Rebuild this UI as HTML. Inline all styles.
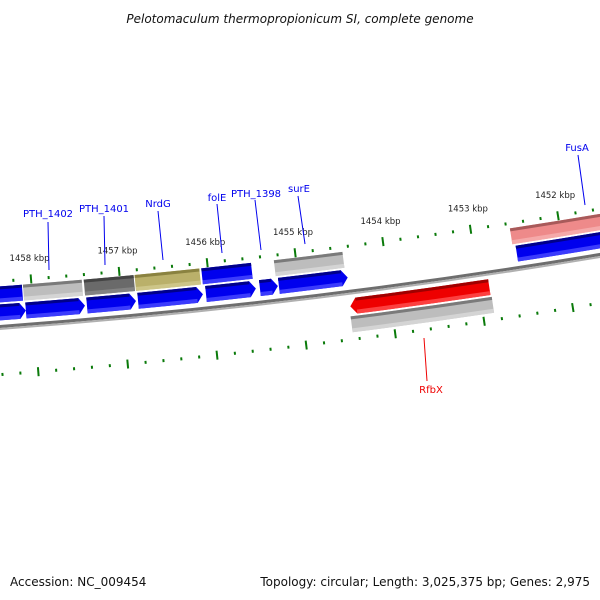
<!DOCTYPE html>
<html><head><meta charset="utf-8"><style>
body{margin:0;background:#fff;}
svg{display:block;font-family:"DejaVu Sans","Liberation Sans",sans-serif;}
</style></head><body>
<svg id="map" width="600" height="600" viewBox="0 0 600 600">
<text x="300" y="23" text-anchor="middle" font-size="12" font-style="italic" fill="#111">Pelotomaculum thermopropionicum SI, complete genome</text>
<g id="rings"></g>
<g id="labels"></g>
<text x="10" y="586" font-size="12" fill="#111">Accession: NC_009454</text>
<text x="590" y="586" font-size="12" fill="#111" text-anchor="end">Topology: circular; Length: 3,025,375 bp; Genes: 2,975</text>
</svg>
<script>
// feature data (bp)
const featStarts = [1458400,1458096,1457407,1456831,1456074,1455249,1452559,
  1458500,1458085,1457396,1456819,1456051,1455441,1455226,1452525,
  1454458,1454469];
const featEnds = [1458108,1457430,1456842,1456096,1455509,1454469,1451300,
  1458085,1457418,1456842,1456085,1455486,1455237,1454446,1451300,
  1452887,1452876];
const featRows = [0,0,0,0,0,0,0, 1,1,1,1,1,1,1,1, 2,3];
const featKinds = ['blue','lgray','dgray','olive','blue','lgray','pink',
  'blue','blue','blue','blue','blue','blue','blue','blue','red','lgray'];
const featArrows = [0,0,0,0,0,0,0, 1,1,1,1,1,1,1,0, -1,0];
const tickStart = 1450800, tickEnd = 1459400, tickStep = 200;
const labelKbp = [1458,1457,1456,1455,1454,1453,1452];

const CX=-479, CY=-6201;
const rowR=[6513,6531,6560,6578];
const colors={blue:['#0000ee','#00008a','#4a4aff'],lgray:['#bdbdbd','#7a7a7a','#dadada'],
 dgray:['#6a6a6a','#444','#888'],olive:['#bab06a','#8a8240','#d2ca90'],
 pink:['#ee8a8a','#a85a5a','#f6b0b0'],red:['#ee0000','#a00000','#ff5050']};
function ang(bp){return (83.16+(bp-1455000)*0.00078)*Math.PI/180;}
function P(bp,r){const a=ang(bp);return [CX+r*Math.cos(a),CY+r*Math.sin(a)];}
const NS='http://www.w3.org/2000/svg';
const rings=document.getElementById('rings');
function mk(tag,at,parent){const e=document.createElementNS(NS,tag);for(const k in at)e.setAttribute(k,at[k]);(parent||rings).appendChild(e);return e;}
function f(p){return p[0].toFixed(2)+','+p[1].toFixed(2);}
const AH=6/6520*180/Math.PI/0.00078;
function sector(s,e,r1,r2,tipL,tipR){
  const rm=(r1+r2)/2;
  let d='M'+f(P(s,r1))+' A'+r1+','+r1+' 0 0 0 '+f(P(e,r1));
  if(tipR!==undefined)d+=' L'+f(P(tipR,rm));
  d+=' L'+f(P(e,r2))+' A'+r2+','+r2+' 0 0 1 '+f(P(s,r2));
  if(tipL!==undefined)d+=' L'+f(P(tipL,rm));
  return d+'Z';
}
// backbone
let bb=mk('path',{d:'M'+f(P(1459500,6545))+' A6545,6545 0 0 0 '+f(P(1450700,6545)),fill:'none',stroke:'#6e6e6e','stroke-width':3});


let bb2=mk('path',{d:'M'+f(P(1459500,6547.5))+' A6547.5,6547.5 0 0 0 '+f(P(1450700,6547.5)),fill:'none',stroke:'#b0b0b0','stroke-width':2});


// features
for(let i=0;i<featStarts.length;i++){
  const rc=rowR[featRows[i]], c=colors[featKinds[i]];
  const a=featArrows[i];
  let s=featStarts[i], e=featEnds[i], tL, tR;
  if(a===1){e=featEnds[i]+AH; tR=featEnds[i];}
  if(a===-1){s=featStarts[i]-AH; tL=featStarts[i];}
  const g=mk('g',{});
  
  
  mk('path',{d:sector(s,e,rc-8,rc+8,tL,tR),fill:c[0]},g);
  mk('path',{d:sector(s,e,rc-8,rc-5),fill:c[1]},g);
  mk('path',{d:sector(s,e,rc+4,rc+8),fill:c[2],opacity:0.8},g);
}
// ticks
for(let bp=tickStart;bp<=tickEnd;bp+=tickStep){
  const major=(bp%1000===0);
  [6500,6593].forEach(r=>{
    const h=major?4.5:1.5;
    const t=mk('line',{x1:P(bp,r-h)[0],y1:P(bp,r-h)[1],x2:P(bp,r+h)[0],y2:P(bp,r+h)[1],stroke:'#0a7a0a','stroke-width':2});
    
    
  });
}
labelKbp.forEach(k=>{
  const p=P(k*1000,6482);
  const t=mk('text',{x:p[0],y:p[1],'font-size':8.5,fill:'#222','text-anchor':'middle'});
  t.textContent=k+' kbp';
  
  
});
// gene labels
const geneNames=['PTH_1402','PTH_1401','NrdG','folE','PTH_1398','surE','FusA','RfbX'];
const geneLab=[[48,217],[104,212],[158,207],[217,201],[256,197],[299,192],[577,151],[431,393]];
const geneLine=[[48,222,49,270],[104,216,105,265],[158,211,163,260],[217,204,222,253],[255,200,261,250],[298,196,305,244],[578,155,585,205],[424,338,427,381]];
const lg=document.getElementById('labels');
geneNames.forEach((n,i)=>{
  const col=n==='RfbX'?'#e00':'#00e';
  const l=mk('line',{x1:geneLine[i][0],y1:geneLine[i][1],x2:geneLine[i][2],y2:geneLine[i][3],stroke:col,'stroke-width':1},lg);
  
  
  const t=mk('text',{x:geneLab[i][0],y:geneLab[i][1],'font-size':10,fill:col,'text-anchor':'middle'},lg);
  t.textContent=n;
  
  
});
</script>
</body></html>
